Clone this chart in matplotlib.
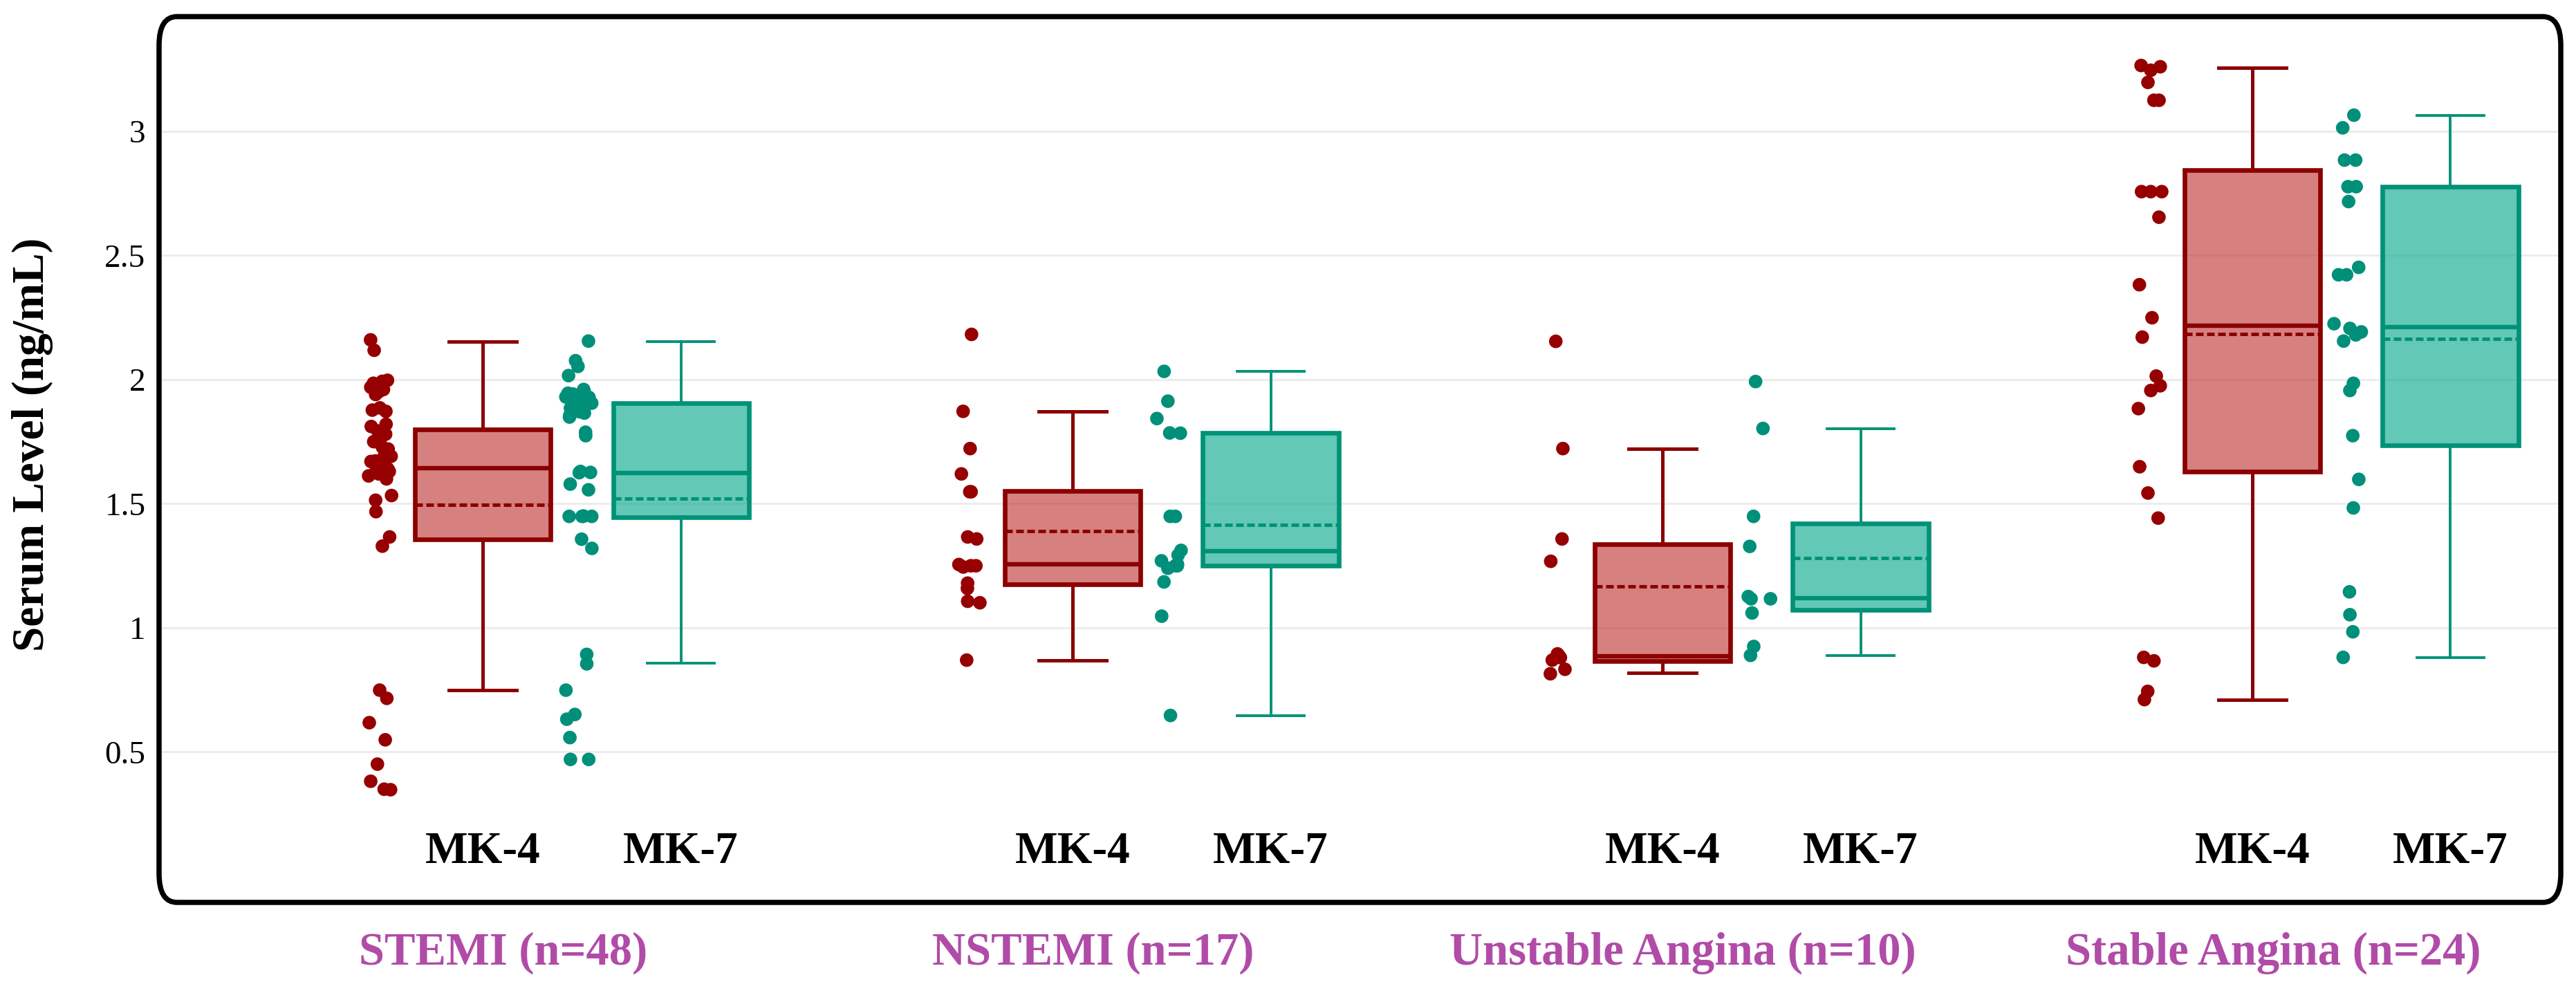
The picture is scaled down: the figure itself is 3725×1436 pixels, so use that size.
import numpy as np
import matplotlib
matplotlib.use("Agg")
import matplotlib.pyplot as plt
from matplotlib.patches import FancyBboxPatch

plt.rcParams['font.family'] = ['Liberation Serif', 'DejaVu Serif']

groups = ["STEMI (n=48)", "NSTEMI (n=17)", "Unstable Angina (n=10)", "Stable Angina (n=24)"]
series = ["MK-4", "MK-7"]
yticks = [0.5, 1, 1.5, 2, 2.5, 3]
ytick_labels = ["0.5", "1", "1.5", "2", "2.5", "3"]

# box statistics per group (STEMI, NSTEMI, Unstable, Stable)
mk4_whislo = [0.749, 0.870, 0.818, 0.711]
mk4_q1     = [1.355, 1.175, 0.867, 1.629]
mk4_med    = [1.642, 1.256, 0.886, 2.216]
mk4_q3     = [1.800, 1.551, 1.337, 2.845]
mk4_whishi = [2.154, 1.872, 1.722, 3.256]
mk4_mean   = [1.495, 1.389, 1.167, 2.184]

mk7_whislo = [0.858, 0.647, 0.887, 0.881]
mk7_q1     = [1.445, 1.250, 1.072, 1.735]
mk7_med    = [1.623, 1.308, 1.119, 2.210]
mk7_q3     = [1.905, 1.785, 1.420, 2.777]
mk7_whishi = [2.154, 2.033, 1.803, 3.064]
mk7_mean   = [1.522, 1.415, 1.281, 2.165]

# individual points
stemi_mk4 = [2.160, 2.118, 1.997, 1.993, 1.969, 1.951, 1.886, 1.877, 1.872, 1.811,
             1.793, 1.765, 1.747, 1.728, 1.700, 1.691, 1.672, 1.654, 1.635, 1.626,
             1.612, 1.533, 1.514, 1.468, 1.366, 1.329, 0.749, 0.716, 0.618, 0.549,
             0.451, 0.382, 0.350, 0.348, 1.985, 1.960, 1.940, 1.820, 1.780, 1.750,
             1.720, 1.690, 1.660, 1.640, 1.620, 1.600, 1.630, 1.670]
stemi_mk7 = [2.155, 2.076, 2.053, 2.016, 1.951, 1.942, 1.928, 1.914, 1.900, 1.895,
             1.877, 1.858, 1.849, 1.788, 1.774, 1.630, 1.626, 1.579, 1.556, 1.449,
             1.449, 1.449, 1.357, 1.320, 0.893, 0.855, 0.749, 0.651, 0.632, 0.558,
             0.470, 0.470, 1.945, 1.935, 1.920, 1.910, 1.905, 1.890, 1.885, 1.870,
             1.865, 1.930, 1.960, 1.920, 1.880, 1.450, 1.450, 1.625]
nstemi_mk4 = [2.182, 1.872, 1.722, 1.620, 1.548, 1.548, 1.358, 1.366, 1.255, 1.250,
              1.245, 1.250, 1.180, 1.159, 1.101, 1.107, 0.870]
nstemi_mk7 = [2.033, 1.913, 1.843, 1.785, 1.784, 1.449, 1.449, 1.312, 1.293, 1.250,
              1.250, 1.256, 1.270, 1.240, 1.185, 1.047, 0.647]
unstable_mk4 = [2.154, 1.722, 1.358, 1.268, 0.889, 0.895, 0.833, 0.815, 0.870, 0.880]
unstable_mk7 = [1.992, 1.803, 1.449, 1.328, 1.117, 1.117, 1.126, 1.060, 0.925, 0.889]
stable_mk4 = [3.246, 3.260, 3.265, 3.197, 3.125, 3.125, 2.757, 2.757, 2.757, 2.654,
              2.382, 2.249, 2.171, 2.014, 1.975, 1.956, 1.883, 1.649, 1.543, 1.442,
              0.881, 0.867, 0.744, 0.711]
stable_mk7 = [3.065, 3.014, 2.884, 2.884, 2.777, 2.777, 2.717, 2.422, 2.422, 2.452,
              2.206, 2.192, 2.225, 2.155, 2.180, 1.985, 1.956, 1.774, 1.598, 1.483,
              1.145, 1.053, 0.984, 0.881]

mk4_points = [stemi_mk4, nstemi_mk4, unstable_mk4, stable_mk4]
mk7_points = [stemi_mk7, nstemi_mk7, unstable_mk7, stable_mk7]

W, H = 3725, 1436
fig = plt.figure(figsize=(W / 100, H / 100), dpi=100)
ax = fig.add_axes([230 / W, 1 - 1305 / H, (3703 - 230) / W, (1305 - 24) / H])

red_edge, red_pt, red_fill = '#8b0000', '#960000', (0.74, 0.17, 0.17, 0.6)
teal_edge, teal_pt, teal_fill = '#009278', '#00907a', (0.06, 0.67, 0.56, 0.65)

gx = np.arange(len(groups))
off7 = 0.336
pt_off = -0.1735
rng = np.random.default_rng(3)


def draw(stats_cols, pos, edge, fill, wlw):
    stats = []
    for lo, q1, med, q3, hi, mean in zip(*stats_cols):
        stats.append(dict(whislo=lo, q1=q1, med=med, q3=q3, whishi=hi, mean=mean, fliers=[]))
    ax.bxp(stats, positions=pos, widths=0.23, capwidths=0.114, patch_artist=True,
           showmeans=True, meanline=True, showfliers=False, manage_ticks=False,
           boxprops=dict(facecolor=fill, edgecolor=edge, linewidth=4.8),
           whiskerprops=dict(color=edge, linewidth=wlw),
           capprops=dict(color=edge, linewidth=wlw),
           medianprops=dict(color=edge, linewidth=4.6),
           meanprops=dict(color=edge, linewidth=3.6, linestyle=(0, (2.2, 1.0))))


draw([mk4_whislo, mk4_q1, mk4_med, mk4_q3, mk4_whishi, mk4_mean], gx, red_edge, red_fill, 3.6)
draw([mk7_whislo, mk7_q1, mk7_med, mk7_q3, mk7_whishi, mk7_mean], gx + off7, teal_edge, teal_fill, 2.8)

for i in range(len(groups)):
    v4 = np.array(mk4_points[i])
    v7 = np.array(mk7_points[i])
    ax.scatter(gx[i] + pt_off + rng.uniform(-0.02, 0.02, len(v4)), v4, s=200,
               color=red_pt, edgecolors='none', zorder=3)
    ax.scatter(gx[i] + off7 + pt_off + rng.uniform(-0.024, 0.024, len(v7)), v7, s=200,
               color=teal_pt, edgecolors='none', zorder=3)
    ax.text(gx[i], 0.097, series[0], ha='center', va='center', fontsize=47, fontweight='bold')
    ax.text(gx[i] + off7, 0.097, series[1], ha='center', va='center', fontsize=47, fontweight='bold')
    ax.text(gx[i] + 0.035, -0.057, groups[i], transform=ax.get_xaxis_transform(),
            ha='center', va='center', fontsize=48, fontweight='bold', color='#b14ba8',
            clip_on=False)

ax.set_xlim(-0.5487, 3.523)
ax.set_ylim(-0.106, 3.462)
for sp in ax.spines.values():
    sp.set_visible(False)
ax.set_xticks([])
ax.set_yticks(yticks, labels=ytick_labels)
ax.tick_params(axis='y', length=0, pad=14, labelsize=34)
ax.yaxis.grid(True, color='#ebebeb', linewidth=2)
ax.set_axisbelow(True)

frame = FancyBboxPatch((2.30, 1.31), 34.73, 12.81,
                       boxstyle="round,pad=0,rounding_size=0.26", mutation_aspect=1.6,
                       transform=fig.dpi_scale_trans, fill=False, linewidth=5.4,
                       edgecolor='black')
fig.add_artist(frame)

fig.text(47 / W, 1 - 643 / H, "Serum Level (ng/mL)", rotation=90, ha='center', va='center',
         fontsize=47, fontweight='bold')

fig.savefig("out.png", dpi=100)
